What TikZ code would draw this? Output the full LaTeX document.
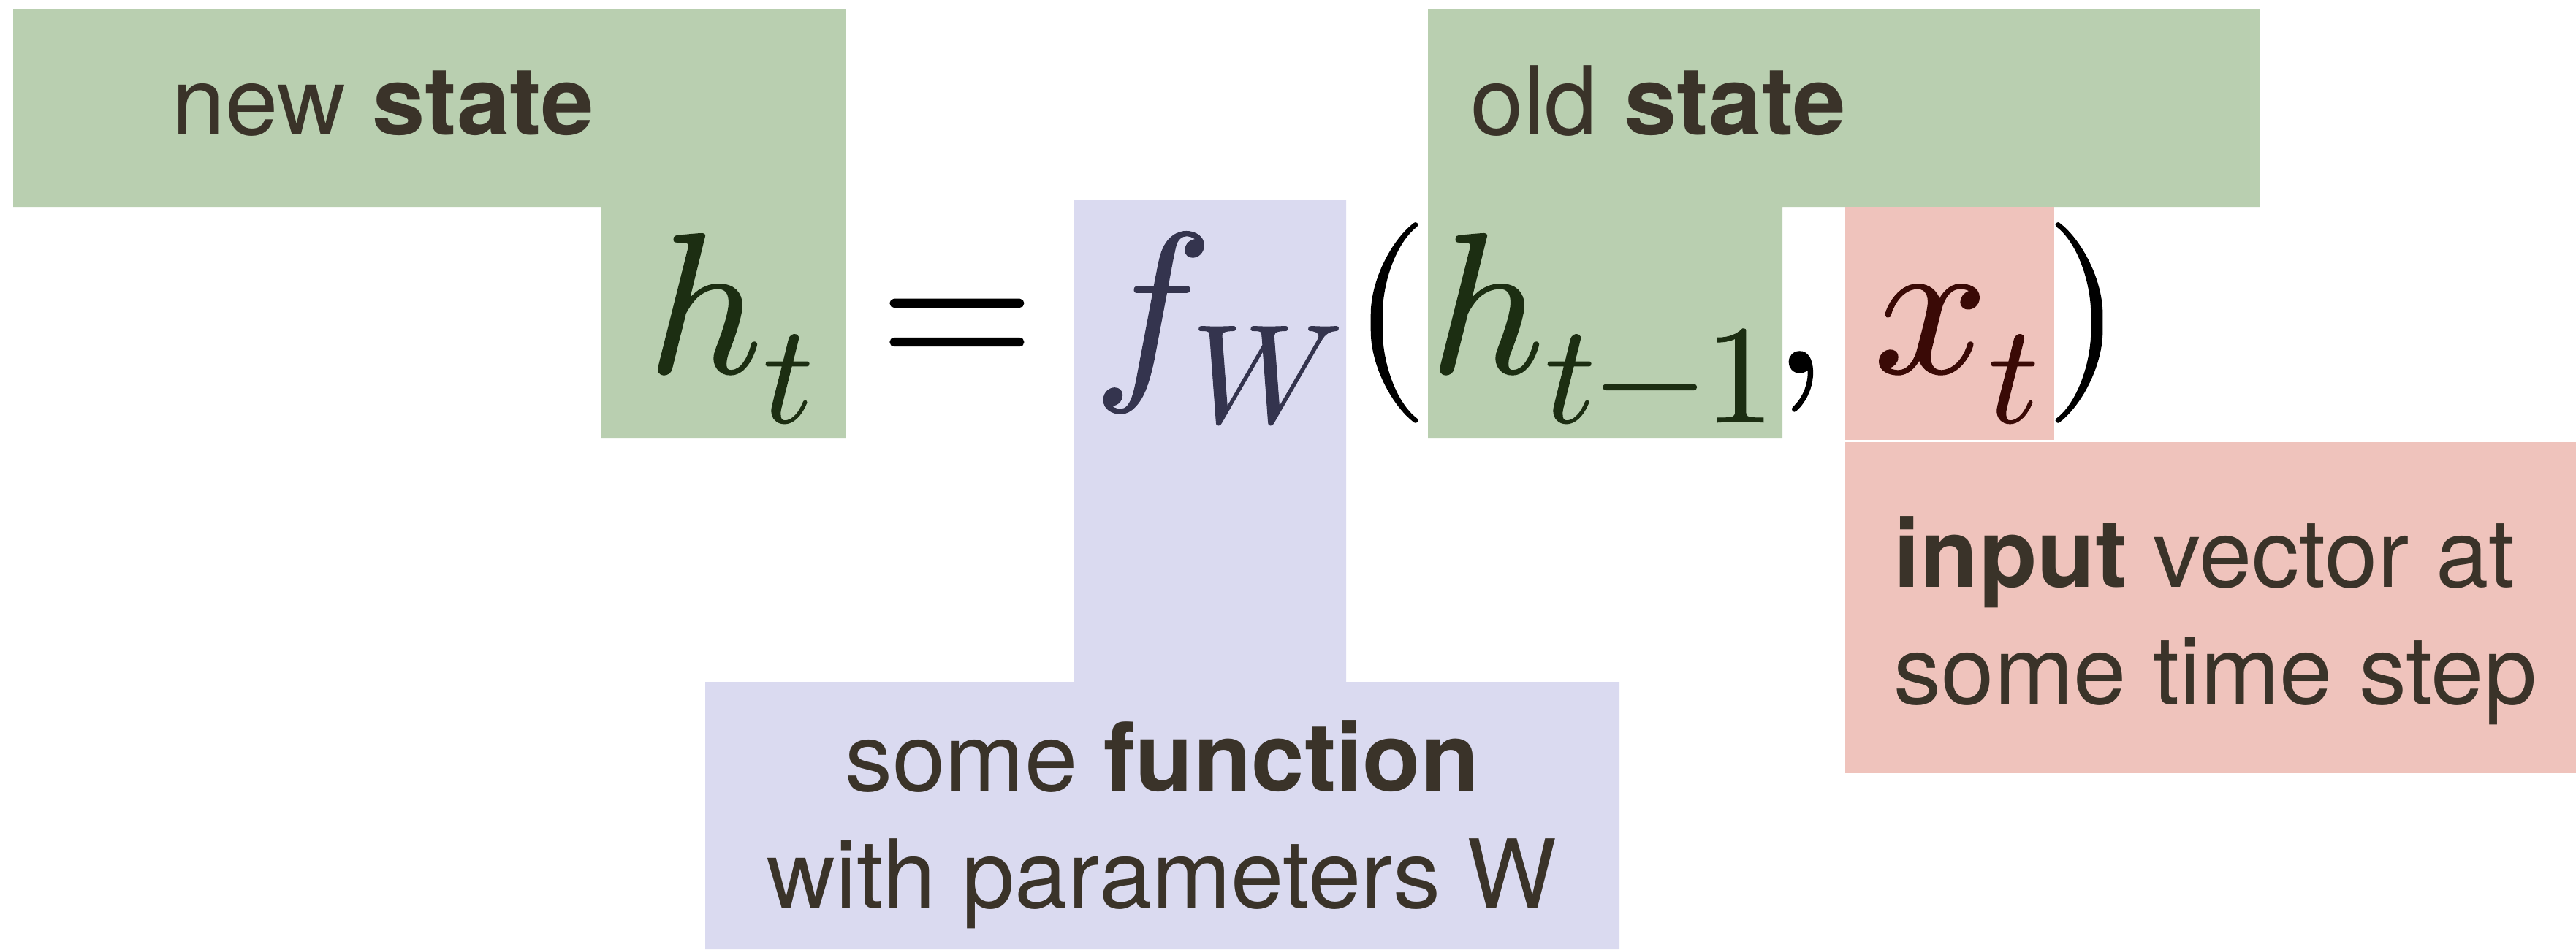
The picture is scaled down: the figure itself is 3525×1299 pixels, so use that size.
\documentclass[tikz,border=0pt]{standalone}
\usepackage{fontspec}
\usepackage{unicode-math}
\setmathfont{Latin Modern Math}[FakeBold=0.5]
\newfontfamily\lblfont{TeX Gyre Heros}
\usetikzlibrary{positioning}

\definecolor{stategreen}{HTML}{B9CFB0}
\definecolor{funcblue}{HTML}{DADAF0}
\definecolor{inputred}{HTML}{EFC3BC}
\definecolor{labeltext}{HTML}{3A3329}
\definecolor{hcol}{HTML}{1C2E12}
\definecolor{fcol}{HTML}{34344E}
\definecolor{xcol}{HTML}{3A0A06}

\begin{document}
\begin{tikzpicture}[
  x=0.01cm, y=-0.01cm,
  lbl/.style={font=\lblfont\fontsize{37}{45.5}\selectfont, text=labeltext, inner sep=0pt},
  mathpc/.style={anchor=base west, inner sep=0pt, font=\fontsize{78}{90}\selectfont},
]
  \useasboundingbox (0,0) rectangle (3525,1299);

  % highlight regions
  \fill[stategreen] (18,12) -- (1157,12) -- (1157,600) -- (823,600) -- (823,283) -- (18,283) -- cycle;
  \fill[stategreen] (1954,12) -- (3092,12) -- (3092,283) -- (2439,283) -- (2439,600) -- (1954,600) -- cycle;
  \fill[funcblue] (1470,274) -- (1842,274) -- (1842,933) -- (2216,933) -- (2216,1299)
                  -- (965,1299) -- (965,933) -- (1470,933) -- cycle;
  \fill[inputred] (2525,283) rectangle (2811,602);
  \fill[inputred] (2525,605) rectangle (3525,1058);

  % equation
  \node[mathpc, text=hcol] (ht) at (885,510) {$h_t$};
  \node[mathpc] (eq) at (1202,510) {$=$};
  \node[mathpc, text=fcol] (fw) at (1495,510) {$f_W$};
  \node[mathpc] (lpar) at (1848,510) {$($};
  \node[mathpc, text=hcol] (hprev) at (1955,510) {$h_{t-1}$};
  \node[mathpc] (comma) at (2424,510) {$,$};
  \node[mathpc, text=xcol] (xt) at (2563,510) {$x_t$};
  \node[mathpc] (rpar) at (2797,510) {$)$};

  % labels (base = last line)
  \node[lbl, anchor=base west] (newlbl) at (235,184.5) {new \textbf{state}};
  \node[lbl, anchor=base west] (oldlbl) at (2012,184.5) {old \textbf{state}};
  \node[lbl, align=left, anchor=base west] (inlbl) at (2591,963) {\textbf{input} vector at\\some time step};
  \node[lbl, align=center, anchor=base] (fnlbl) at (1590,1242) {some \textbf{function}\\with parameters W};
\end{tikzpicture}
\end{document}
